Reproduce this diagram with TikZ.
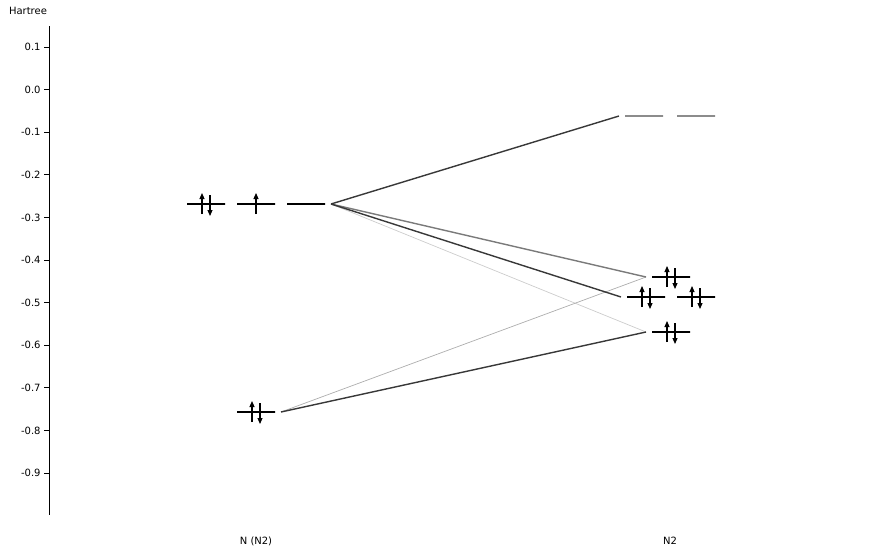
\documentclass[tikz,border=0pt]{standalone}
\usepackage{fontspec}
\setmainfont{DejaVu Sans}
\usepackage{tikz}
\usetikzlibrary{arrows.meta}

\begin{document}
\begin{tikzpicture}[x=1pt,y=-1pt,font=\fontsize{10}{12}\selectfont]
          \useasboundingbox (0,0) rectangle (877,557);
          \tikzset{lvl/.style = {draw, line width=1.7pt, minimum width=38pt,
                                 minimum height=0pt, inner sep=0pt, outer xsep=6pt}}
          \tikzset{virt/.style = {lvl, draw=black!45}}
          \tikzset{el/.style = {line width=1.1pt, -{Triangle[width=5pt,length=6pt]}}}
          \tikzset{updown/.pic = {\draw[el] (-4,10) -- (-4,-11); \draw[el] (4,-9) -- (4,12);}}
          \tikzset{uponly/.pic = {\draw[el] (0,10) -- (0,-11);}}
          \tikzset{dark/.style = {draw=black!78, line width=1.4pt}}
          \tikzset{mid/.style = {draw=black!52, line width=1.4pt}}
          \tikzset{faint/.style = {draw=black!20, line width=0.7pt}}
          \tikzset{faint2/.style = {draw=black!32, line width=0.7pt}}

          % energy axis
          \node (unit) at (28,11) {Hartree};
          \draw[line width=0.8pt] (49,26) -- (49,515);
          \foreach \v in {0.1,0.0,-0.1,-0.2,-0.3,-0.4,-0.5,-0.6,-0.7,-0.8,-0.9}
            \draw[line width=0.8pt] (44,{89.6-426*\v}) node[left, inner sep=3pt] {\v} -- (49,{89.6-426*\v});

          % N
          \node[lvl] (p1) at (206,204) {};
          \node[lvl] (p2) at (256,204) {};
          \node[lvl] (p3) at (306,204) {};
          \node[lvl] (s) at (256,412) {};
          \pic at (p1) {updown};
          \pic at (p2) {uponly};
          \pic at (s) {updown};

          % N2
          \node[virt] (m1) at (644,116) {};
          \node[virt] (m2) at (696,116) {};
          \node[lvl] (b1) at (671,277) {};
          \node[lvl] (c1) at (646,297) {};
          \node[lvl] (c2) at (696,297) {};
          \node[lvl] (d1) at (671,332) {};
          \pic at (b1) {updown};
          \pic at (c1) {updown};
          \pic at (c2) {updown};
          \pic at (d1) {updown};

          \draw[faint] (p3.east) -- (d1.west);
          \draw[faint2] (s.east) -- (b1.west);
          \draw[mid] (p3.east) -- (b1.west);
          \draw[dark] (p3.east) -- (m1.west);
          \draw[dark] (p3.east) -- (c1.west);
          \draw[dark] (s.east) -- (d1.west);

          \node (atom) at (256,541) {N (N2)};
          \node (mol) at (670,541) {N2};
        \end{tikzpicture}
\end{document}
